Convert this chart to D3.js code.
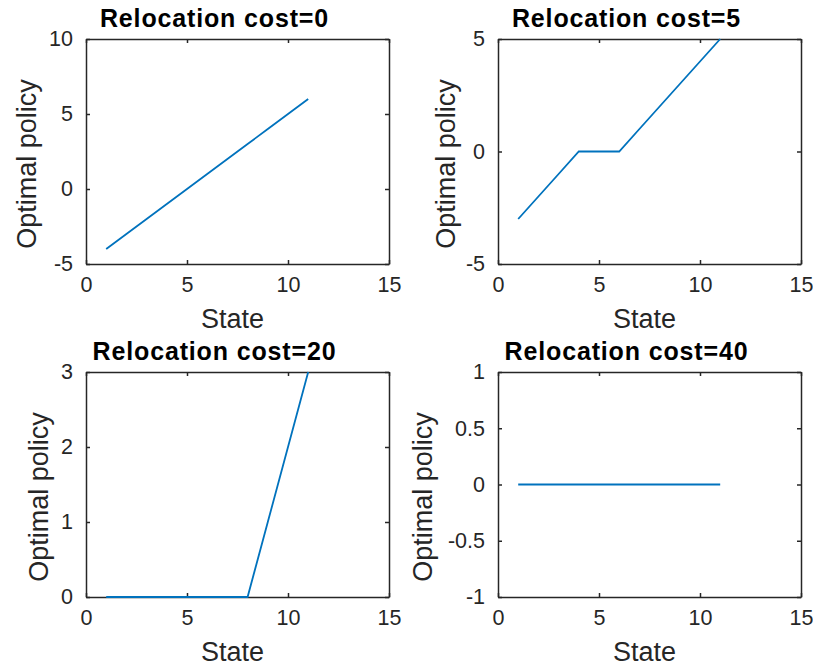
<!DOCTYPE html>
<html>
<head>
<meta charset="utf-8">
<script src="https://cdn.jsdelivr.net/npm/d3@7"></script>
<style>
  body { margin: 0; background: #fff; }
  svg { font-family: "Liberation Sans", Arial, sans-serif; }
  .tick-label { font-size: 21.5px; fill: #262626; }
  .axis-label { font-size: 27px; fill: #262626; }
  .title { font-size: 25px; font-weight: bold; fill: #000; letter-spacing: 0.85px; }
</style>
</head>
<body>
<svg width="813" height="670"></svg>
<script>

	// 2x2 subplots: optimal policy vs state for each relocation cost

	var states = [1, 2, 3, 4, 5, 6, 7, 8, 9, 10, 11];

	var costs = [0, 5, 20, 40];

	var policyCost0  = [-4, -3, -2, -1, 0, 1, 2, 3, 4, 5, 6];
	var policyCost5  = [-3, -2, -1, 0, 0, 0, 1, 2, 3, 4, 5];
	var policyCost20 = [0, 0, 0, 0, 0, 0, 0, 0, 1, 2, 3];
	var policyCost40 = [0, 0, 0, 0, 0, 0, 0, 0, 0, 0, 0];

	var xTicks = [0, 5, 10, 15];
	var yTicks0  = [-5, 0, 5, 10];
	var yTicks5  = [-5, 0, 5];
	var yTicks20 = [0, 1, 2, 3];
	var yTicks40 = [-1, -0.5, 0, 0.5, 1];

	var panels = [
		{ cost: costs[0], values: policyCost0,  yTicks: yTicks0 },
		{ cost: costs[1], values: policyCost5,  yTicks: yTicks5 },
		{ cost: costs[2], values: policyCost20, yTicks: yTicks20 },
		{ cost: costs[3], values: policyCost40, yTicks: yTicks40 }
	];

	// axes boxes in pixels (left, top) - same size for all
	var boxes = [[86, 39], [498, 39], [86, 372], [498, 372]];
	var boxW = 303, boxH = 225, tickLen = 4;
	var axisColor = "#262626", lineColor = "#0072BD";

	var svg = d3.select("svg");

	panels.forEach(function(p, i){
		var g = svg.append("g")
			.attr("transform", "translate(" + boxes[i][0] + "," + boxes[i][1] + ")");

		var x = d3.scaleLinear()
				  .domain([xTicks[0], xTicks[xTicks.length - 1]])
				  .range([0, boxW]);

		var y = d3.scaleLinear()
				  .domain([p.yTicks[0], p.yTicks[p.yTicks.length - 1]])
				  .range([boxH, 0]);

		var fmt = function(d){ return String(d); };

		// bottom + top axes, ticks pointing inward
		g.append("g")
		 .attr("transform", "translate(0," + boxH + ")")
		 .call(d3.axisBottom(x).tickValues(xTicks).tickSizeInner(-tickLen).tickSizeOuter(0).tickPadding(13).tickFormat(fmt));
		g.append("g")
		 .call(d3.axisTop(x).tickValues(xTicks).tickSizeInner(-tickLen).tickSizeOuter(0).tickFormat(""));

		// left + right axes
		g.append("g")
		 .call(d3.axisLeft(y).tickValues(p.yTicks).tickSizeInner(-tickLen).tickSizeOuter(0).tickPadding(13).tickFormat(fmt));
		g.append("g")
		 .attr("transform", "translate(" + boxW + ",0)")
		 .call(d3.axisRight(y).tickValues(p.yTicks).tickSizeInner(-tickLen).tickSizeOuter(0).tickFormat(""));

		g.selectAll(".domain")
		 .attr("stroke", axisColor)
		 .attr("stroke-width", 1.5);
		g.selectAll(".tick line")
		 .attr("stroke", axisColor)
		 .attr("stroke-width", 1.5);
		g.selectAll(".tick text")
		 .attr("class", "tick-label")
		 .attr("fill", null);
		g.selectAll("g").attr("font-family", null).attr("font-size", null);

		// the policy line
		var line = d3.line()
					 .x(function(d, j) { return x(states[j]); })
					 .y(function(d) { return y(d); });

		g.append("path")
		 .datum(p.values)
		 .attr("d", line)
		 .attr("fill", "none")
		 .attr("stroke", lineColor)
		 .attr("stroke-width", 1.8);

		// labels and title
		g.append("text")
		 .attr("class", "axis-label")
		 .attr("x", boxW / 2 - 5)
		 .attr("y", boxH + 64)
		 .attr("text-anchor", "middle")
		 .text("State");

		var yLabelOffset = [50, 43.5, 38.5, 66.5][i];
		g.append("text")
		 .attr("class", "axis-label")
		 .attr("transform", "translate(" + (-yLabelOffset) + "," + (boxH / 2 + 12.5) + ") rotate(-90)")
		 .attr("text-anchor", "middle")
		 .text("Optimal policy");

		g.append("text")
		 .attr("class", "title")
		 .attr("x", boxW / 2 - 23)
		 .attr("y", -12)
		 .attr("text-anchor", "middle")
		 .text("Relocation cost=" + p.cost);
	});

</script>
</body>
</html>
